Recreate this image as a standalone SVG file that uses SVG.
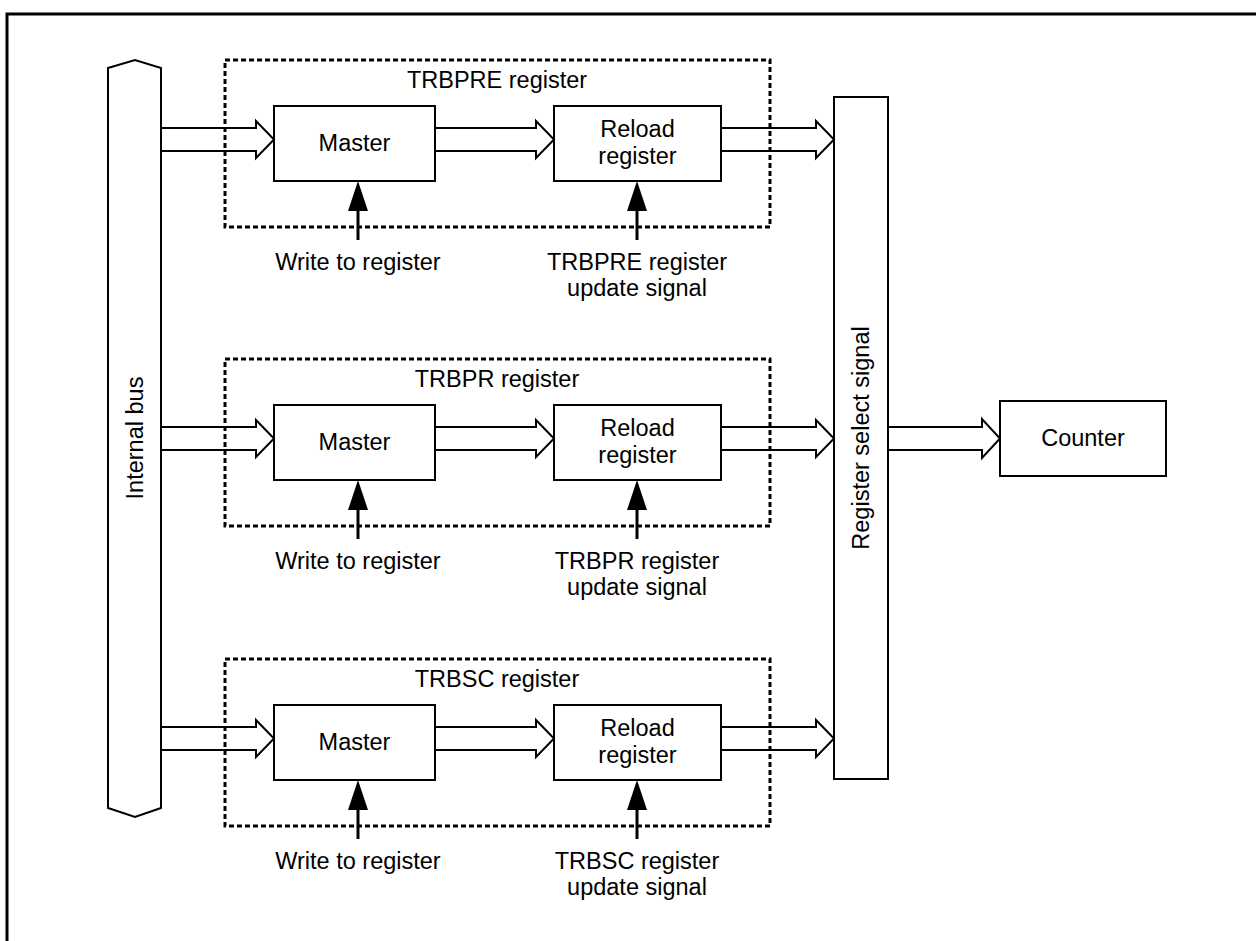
<svg xmlns="http://www.w3.org/2000/svg" width="1256" height="941" viewBox="0 0 1256 941">
<style>
.box{fill:#fff;stroke:#000;stroke-width:2}
.dash{fill:none;stroke:#000;stroke-width:3;stroke-dasharray:5 3}
.bus{fill:#fff;stroke:#000;stroke-width:2}
.harrow{fill:#fff;stroke:#000;stroke-width:2;stroke-linejoin:miter}
.up{stroke:#000;stroke-width:3;fill:none}
.head{fill:#000}
text{font-family:"Liberation Sans",Arial,sans-serif;font-size:23.5px;fill:#000;text-anchor:middle}
</style>
<rect x="7" y="14" width="1262" height="940" fill="#fff" stroke="#000" stroke-width="3"/>
<g id="connectors">
  <g id="row1-arrows">
    <path class="harrow" d="M161,128 H256 V121 L274,139.5 L256,158 V151 H161"/>
    <path class="harrow" d="M435,128 H536 V121 L554,139.5 L536,158 V151 H435"/>
    <path class="harrow" d="M721,128 H816 V121 L834,139.5 L816,158 V151 H721"/>
    <line class="up" x1="358" y1="240" x2="358" y2="205"/>
    <polygon class="head" points="348,211 358,181 368,211"/>
    <line class="up" x1="637" y1="240" x2="637" y2="205"/>
    <polygon class="head" points="627,211 637,181 647,211"/>
  </g>
  <g id="row2-arrows" transform="translate(0,299)">
    <path class="harrow" d="M161,128 H256 V121 L274,139.5 L256,158 V151 H161"/>
    <path class="harrow" d="M435,128 H536 V121 L554,139.5 L536,158 V151 H435"/>
    <path class="harrow" d="M721,128 H816 V121 L834,139.5 L816,158 V151 H721"/>
    <line class="up" x1="358" y1="240" x2="358" y2="205"/>
    <polygon class="head" points="348,211 358,181 368,211"/>
    <line class="up" x1="637" y1="240" x2="637" y2="205"/>
    <polygon class="head" points="627,211 637,181 647,211"/>
  </g>
  <g id="row3-arrows" transform="translate(0,599)">
    <path class="harrow" d="M161,128 H256 V121 L274,139.5 L256,158 V151 H161"/>
    <path class="harrow" d="M435,128 H536 V121 L554,139.5 L536,158 V151 H435"/>
    <path class="harrow" d="M721,128 H816 V121 L834,139.5 L816,158 V151 H721"/>
    <line class="up" x1="358" y1="240" x2="358" y2="205"/>
    <polygon class="head" points="348,211 358,181 368,211"/>
    <line class="up" x1="637" y1="240" x2="637" y2="205"/>
    <polygon class="head" points="627,211 637,181 647,211"/>
  </g>
  <path class="harrow" d="M888,427 H982 V419 L1000,438.5 L982,458 V450 H888"/>
</g>
<g id="frame1"><rect class="dash" x="225" y="60" width="545" height="167"/><text x="497" y="88">TRBPRE register</text></g>
<g id="frame2"><rect class="dash" x="225" y="359" width="545" height="167"/><text x="497" y="387">TRBPR register</text></g>
<g id="frame3"><rect class="dash" x="225" y="659" width="545" height="167"/><text x="497" y="687">TRBSC register</text></g>
<g id="bus"><path class="bus" d="M108,68 L135,60 L161,68 V808 L135,817 L108,808 Z"/><text transform="translate(143,438) rotate(-90)">Internal bus</text></g>
<g id="select"><rect class="box" x="834" y="97" width="54" height="682"/><text transform="translate(869,438) rotate(-90)">Register select signal</text></g>
<g id="counter"><rect class="box" x="1000" y="401" width="166" height="75"/><text x="1083" y="446">Counter</text></g>
<g id="master1"><rect class="box" x="274" y="106" width="161" height="75"/><text x="354.5" y="151">Master</text></g>
<g id="reload1"><rect class="box" x="554" y="106" width="167" height="75"/><text x="637.5" y="137">Reload</text><text x="637.5" y="164">register</text></g>
<g id="master2"><rect class="box" x="274" y="405" width="161" height="75"/><text x="354.5" y="450">Master</text></g>
<g id="reload2"><rect class="box" x="554" y="405" width="167" height="75"/><text x="637.5" y="436">Reload</text><text x="637.5" y="463">register</text></g>
<g id="master3"><rect class="box" x="274" y="705" width="161" height="75"/><text x="354.5" y="750">Master</text></g>
<g id="reload3"><rect class="box" x="554" y="705" width="167" height="75"/><text x="637.5" y="736">Reload</text><text x="637.5" y="763">register</text></g>
<g id="labels">
<text x="358" y="270">Write to register</text>
<text x="637" y="270">TRBPRE register</text>
<text x="637" y="296">update signal</text>
<text x="358" y="569">Write to register</text>
<text x="637" y="569">TRBPR register</text>
<text x="637" y="595">update signal</text>
<text x="358" y="869">Write to register</text>
<text x="637" y="869">TRBSC register</text>
<text x="637" y="895">update signal</text>
</g>
</svg>
